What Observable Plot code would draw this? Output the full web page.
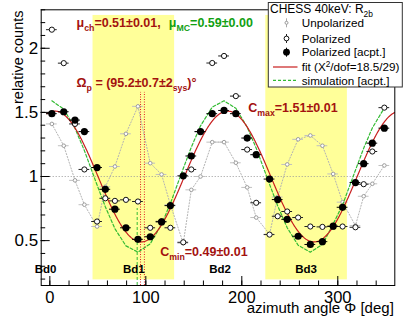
<!DOCTYPE html>
<html><head><meta charset="utf-8">
<script src="https://cdn.jsdelivr.net/npm/d3@7"></script>
<script src="https://cdn.jsdelivr.net/npm/@observablehq/plot@0.6"></script>
<style>
html,body{margin:0;padding:0;background:#fff;}
#chart{position:relative;width:407px;height:324px;overflow:hidden;}
</style></head><body><div id="chart"></div>
<script>
// azimuth angle of each channel [deg]
const phi   = [2.1, 14.5, 26.2, 36.0, 49.2, 57.8, 67.8, 79.3, 91.8, 104.6, 116.4, 125.6, 139.0, 147.4, 157.0, 169.2,
               181.5, 193.8, 205.6, 215.0, 228.9, 237.4, 247.3, 258.7, 271.4, 284.0, 295.2, 305.0, 318.4, 327.0, 336.0, 348.5];
// Polarized [acpt.] (filled)
const acpt  = [1.49, 1.505, 1.44, 1.35, 1.07, 0.90, 0.745, 0.60, 0.51, 0.53, 0.646, 0.773, 1.005, 1.16, 1.35, 1.49,
               1.515, 1.49, 1.30, 1.17, 0.98, 0.82, 0.666, 0.534, 0.47, 0.492, 0.613, 0.76, 0.953, 1.10, 1.26, 1.377];
// Polarized (open)
const pol   = [2.145, 1.884, 1.41, 1.055, 0.649, 0.83, 0.81, 0.818, 0.805, 0.60, 0.65, 0.60, 0.487, 1.055, 1.35, 1.885,
               1.94, 1.627, 1.21, 0.795, 0.547, 0.69, 0.727, 0.68, 0.61, 0.607, 0.61, 0.61, 0.604, 0.94, 1.195, 1.537];
// Unpolarized (gray)
const unpol = [1.41, 1.24, 0.97, 0.78, 0.61, 0.92, 1.078, 1.333, 1.547, 1.104, 1.016, 0.78, 0.48, 0.896, 1.0, 1.268,
               1.268, 1.107, 0.915, 0.68, 0.55, 0.84, 1.094, 1.29, 1.32, 1.24, 1.02, 0.80, 0.617, 0.846, 0.943, 1.086];
// simulation [acpt.]
const sim   = [1.590, 1.526, 1.376, 1.202, 0.934, 0.764, 0.593, 0.459, 0.410, 0.475, 0.627, 0.790, 1.062, 1.229, 1.395, 1.541,
               1.590, 1.532, 1.385, 1.221, 0.940, 0.771, 0.600, 0.464, 0.410, 0.470, 0.629, 0.779, 1.049, 1.221, 1.379, 1.535];
const xErr = 5.6;

// fit parameters
const fitCmax = 1.51, fitCmin = 0.49, fitOmega = 95.2;
const omegaLines = [94.5, 98.5];
const simMinLine = [91];

// boards
const bandStart = [45, 225];
const bandEnd   = [130, 310];
const boardNames = ["Bd0", "Bd1", "Bd2", "Bd3"];
const boardPos   = [-4.5, 87.5, 177.3, 266.9];

// ticks
const xMajor = [0, 100, 200, 300];
const xMinor = [0, 20, 40, 60, 80, 100, 120, 140, 160, 180, 200, 220, 240, 260, 280, 300, 320, 340];
const yMajor = [0.5, 1, 1.5, 2];
const yMinor = [0.2, 0.3, 0.4, 0.5, 0.6, 0.7, 0.8, 0.9, 1.0, 1.1, 1.2, 1.3, 1.4, 1.5, 1.6, 1.7, 1.8, 1.9, 2.0, 2.1, 2.2, 2.3];

const legendLabels = ["Unpolarized", "Polarized", "Polarized [acpt.]", "fit (Χ^{2}/dof=18.5/29)", "simulation [acpt.]"];
const legendTitle = "CHESS 40keV: R_{2b}";

const rows = phi.map((p, i) => ({phi: p, acpt: acpt[i], pol: pol[i], unpol: unpol[i], sim: sim[i]}));
const bands = bandStart.map((s, i) => ({x1: s, x2: bandEnd[i]}));
const boards = boardNames.map((n, i) => ({name: n, x: boardPos[i]}));
const fitMean = (fitCmax + fitCmin) / 2, fitAmp = (fitCmax - fitCmin) / 2;
const fitCurve = d3.range(-3, 359.01, 0.5).map(p => ({phi: p, c: fitMean - fitAmp * Math.cos(2 * (p - fitOmega) * Math.PI / 180)}));

const RED = "#a3120f", GREEN = "#12a012", FIT = "#c81e1e", SIMC = "#33bb33";
const FONT = "'Liberation Sans', Arial, Helvetica, sans-serif";

const svg = Plot.plot({
  width: 407, height: 324,
  marginLeft: 40.7, marginRight: 12.7, marginTop: 9.3, marginBottom: 39,
  x: {domain: [-9, 359.4], label: null},
  y: {domain: [0.15, 2.30], label: null},
  style: {fontFamily: FONT, background: "white", color: "black"},
  marks: [
    Plot.rect(bands, {x1: "x1", x2: "x2", y1: 0.194, y2: 2.256, fill: "#ffff99"}),
    Plot.ruleY([1], {stroke: "#9a9a9a", strokeDasharray: "1,2"}),
    // unpolarized
    Plot.line(rows, {x: "phi", y: "unpol", stroke: "#b4b4b4", strokeDasharray: "1.2,1.8", strokeWidth: 1}),
    Plot.ruleY(rows, {y: "unpol", x1: d => d.phi - xErr, x2: d => d.phi + xErr, stroke: "#c0c0c0"}),
    Plot.dot(rows, {x: "phi", y: "unpol", r: 1.8, stroke: "#9c9c9c", fill: "white", strokeWidth: 1}),
    // simulation and fit
    Plot.line(rows, {x: "phi", y: "sim", stroke: SIMC, strokeDasharray: "3,2", strokeWidth: 1.2}),
    Plot.line(fitCurve, {x: "phi", y: "c", stroke: FIT, strokeWidth: 1.2}),
    Plot.ruleX(omegaLines, {y1: 0.15, y2: 1.656, stroke: "#dd2222", strokeDasharray: "1,1.5"}),
    Plot.ruleX(simMinLine, {y1: 0.15, y2: 0.75, stroke: SIMC, strokeDasharray: "3,2"}),
    // polarized open
    Plot.ruleY(rows, {y: "pol", x1: d => d.phi - xErr, x2: d => d.phi + xErr, stroke: "#222"}),
    Plot.dot(rows, {x: "phi", y: "pol", r: 2.6, stroke: "#111", fill: "white", strokeWidth: 1}),
    // polarized accepted
    Plot.ruleY(rows, {y: "acpt", x1: d => d.phi - xErr, x2: d => d.phi + xErr, stroke: "black"}),
    Plot.dot(rows, {x: "phi", y: "acpt", r: 3.6, fill: "black"}),
    // annotations
    Plot.text(["μ_{ch}=0.51±0.01,"], {text: d => d, x: 27.8, y: 2.20, textAnchor: "start", fill: RED, fontSize: 12.5, fontWeight: "bold"}),
    Plot.text(["μ_{MC}=0.59±0.00"], {text: d => d, x: 124, y: 2.20, textAnchor: "start", fill: GREEN, fontSize: 12.5, fontWeight: "bold"}),
    Plot.text(["Ω_{p} = (95.2±0.7±2_{sys})°"], {text: d => d, x: 27.8, y: 1.732, textAnchor: "start", fill: RED, fontSize: 12.5, fontWeight: "bold"}),
    Plot.text(["C_{max}=1.51±0.01"], {text: d => d, x: 206.7, y: 1.532, textAnchor: "start", fill: RED, fontSize: 12.5, fontWeight: "bold"}),
    Plot.text(["C_{min}=0.49±0.01"], {text: d => d, x: 115, y: 0.415, textAnchor: "start", fill: RED, fontSize: 12.5, fontWeight: "bold"}),
    Plot.text(boards, {text: "name", x: "x", y: 0.28, fill: "black", fontSize: 11.5, fontWeight: "bold"}),
    // frame + axes
    Plot.frame({stroke: "black"}),
    Plot.axisX({ticks: xMinor, tickSize: -4.5, tickFormat: () => "", label: null}),
    Plot.axisX({ticks: xMajor, tickSize: -9, tickFormat: () => "", label: null}),
    Plot.axisX({ticks: xMajor, tickSize: 0, tickPadding: 5.5, fontSize: 16.5, tickFormat: d => String(d), label: null}),
    Plot.axisY({ticks: yMinor, tickSize: -4.5, tickFormat: () => "", label: null}),
    Plot.axisY({ticks: yMajor, tickSize: -9, tickFormat: () => "", label: null}),
    Plot.axisY({ticks: yMajor, tickSize: 0, tickPadding: 3, fontSize: 17, tickFormat: d => String(d), label: null}),
    Plot.text(["azimuth angle Φ [deg]"], {text: d => d, frameAnchor: "bottom-right", textAnchor: "end", dx: -1, dy: 27, fontSize: 15}),
    Plot.text(["relative counts"], {text: d => d, frameAnchor: "top-left", textAnchor: "end", rotate: -90, dx: -28.5, dy: 0.7, fontSize: 14.5})
  ]
});
document.getElementById("chart").appendChild(svg);

// legend
const root = d3.select(svg);
const lg = root.append("g").attr("font-family", FONT).attr("text-anchor", "start");
lg.append("rect").attr("x", 268.3).attr("y", 2.5).attr("width", 134).attr("height", 84.5)
  .attr("fill", "white").attr("stroke", "#333").attr("stroke-width", 1);
lg.append("text").attr("x", 270).attr("y", 12.8).attr("font-size", 12).attr("text-anchor", "start").attr("fill", "black").text(legendTitle);
const rowY = [22.8, 38.5, 52.2, 67, 80.3];
const sx = 286.5;
legendLabels.forEach((t, i) => {
  lg.append("text").attr("x", 301.7).attr("y", rowY[i] + 4.2).attr("font-size", 11.7).attr("text-anchor", "start").attr("fill", "black").text(t);
});
// symbols
lg.append("line").attr("x1", sx).attr("x2", sx).attr("y1", rowY[0] - 4.5).attr("y2", rowY[0] + 4.5).attr("stroke", "#aaa");
lg.append("circle").attr("cx", sx).attr("cy", rowY[0]).attr("r", 1.5).attr("fill", "white").attr("stroke", "#999");
lg.append("line").attr("x1", sx).attr("x2", sx).attr("y1", rowY[1] - 4.5).attr("y2", rowY[1] + 4.5).attr("stroke", "#222");
lg.append("circle").attr("cx", sx).attr("cy", rowY[1]).attr("r", 2.4).attr("fill", "white").attr("stroke", "#111");
lg.append("line").attr("x1", sx).attr("x2", sx).attr("y1", rowY[2] - 4.5).attr("y2", rowY[2] + 4.5).attr("stroke", "black");
lg.append("circle").attr("cx", sx).attr("cy", rowY[2]).attr("r", 3.4).attr("fill", "black");
lg.append("line").attr("x1", 273).attr("x2", 297.5).attr("y1", rowY[3]).attr("y2", rowY[3]).attr("stroke", FIT).attr("stroke-width", 1.2);
lg.append("line").attr("x1", 273).attr("x2", 297.5).attr("y1", rowY[4]).attr("y2", rowY[4]).attr("stroke", SIMC).attr("stroke-width", 1.2).attr("stroke-dasharray", "3,2");

// sub/superscripts
const NS = "http://www.w3.org/2000/svg";
svg.querySelectorAll("text").forEach(el => {
  const s = el.textContent;
  if (!/[_^]\{/.test(s)) return;
  const fs = parseFloat(getComputedStyle(el).fontSize) || 12;
  while (el.firstChild) el.removeChild(el.firstChild);
  const re = /([_^])\{([^}]*)\}/g;
  let last = 0, m, pending = 0;
  const add = (str, dy, size) => {
    if (!str) return;
    const t = document.createElementNS(NS, "tspan");
    t.textContent = str;
    if (dy) t.setAttribute("dy", dy.toFixed(2));
    if (size) t.setAttribute("font-size", size.toFixed(2));
    el.appendChild(t);
  };
  while ((m = re.exec(s))) {
    add(s.slice(last, m.index), pending); pending = 0;
    const shift = m[1] === "_" ? 0.32 * fs : -0.38 * fs;
    add(m[2], shift, 0.7 * fs);
    pending = -shift;
    last = re.lastIndex;
  }
  const rest = s.slice(last);
  if (rest) add(rest, pending);
});
</script>
</body></html>
